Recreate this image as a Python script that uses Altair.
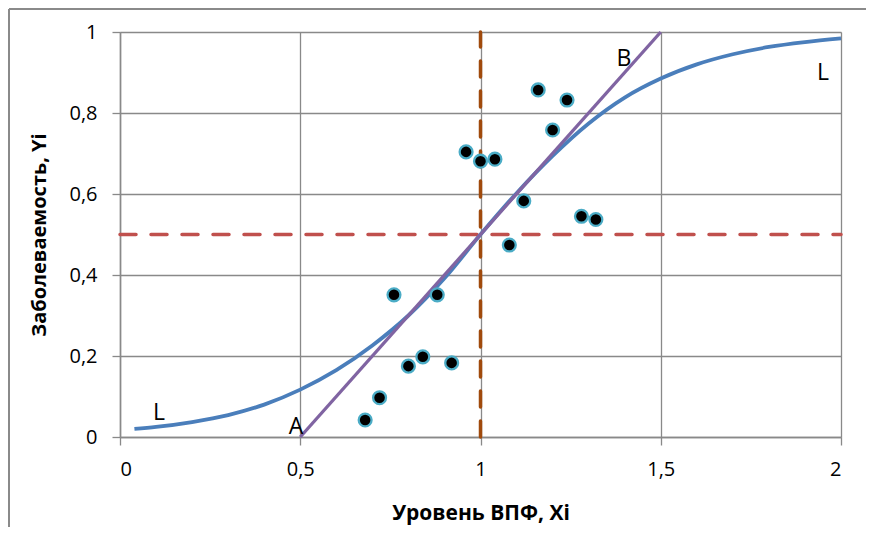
import altair as alt
import pandas as pd

# Observed points (Xi, Yi)
x_pts = [0.68, 0.72, 0.76, 0.80, 0.84, 0.88, 0.92, 0.96, 1.00, 1.04, 1.08, 1.12, 1.16, 1.20, 1.24, 1.28, 1.32]
y_pts = [0.042, 0.097, 0.351, 0.175, 0.198, 0.351, 0.183, 0.704, 0.681, 0.686, 0.474, 0.583, 0.857, 0.758, 0.832, 0.545, 0.537]

# Logistic curve L
curve_x = [0.04, 0.1, 0.2, 0.3, 0.4, 0.5, 0.6, 0.7, 0.8, 0.9, 1.0, 1.1, 1.2, 1.3, 1.4, 1.5, 1.6, 1.7, 1.8, 1.9, 2.0]
curve_y = [0.020, 0.025, 0.037, 0.054, 0.080, 0.117, 0.165, 0.226, 0.300, 0.392, 0.500, 0.602, 0.694, 0.774, 0.838, 0.885, 0.920, 0.945, 0.963, 0.975, 0.984]

# Straight line A-B
ab_x = [0.5, 1.5]
ab_y = [0.0, 1.0]

# Reference lines
h_x = [0.0, 2.0]
h_y = [0.5, 0.5]
v_x = [1.0, 1.0]
v_y = [0.0, 1.0]

# Labels
lab_text = ["L", "A", "B", "L"]
lab_x = [0.108, 0.488, 1.398, 1.95]
lab_y = [0.059, 0.025, 0.933, 0.899]

FONT = "Open Sans"
GRID = "#898989"

pts = pd.DataFrame({"x": x_pts, "y": y_pts})
curve = pd.DataFrame({"x": curve_x, "y": curve_y, "o": list(range(len(curve_x)))})
ab = pd.DataFrame({"x": ab_x, "y": ab_y})
hline = pd.DataFrame({"x": h_x, "y": h_y})
vline = pd.DataFrame({"x": v_x, "y": v_y})
labs = pd.DataFrame({"t": lab_text, "x": lab_x, "y": lab_y})

xs = alt.Scale(domain=[0, 2], nice=False, zero=False)
ys = alt.Scale(domain=[0, 1], nice=False, zero=False)

label_expr = "replace(format(datum.value, '.1~f'), '.', ',')"

x_axis = alt.Axis(
    values=[0, 0.5, 1, 1.5, 2], labelExpr=label_expr, title="Уровень ВПФ, Xi",
    grid=True, gridColor=GRID, gridWidth=1.3, domainColor=GRID, domainWidth=1.5,
    tickColor=GRID, tickSize=8, tickWidth=1.3, labelPadding=14,
    labelFont=FONT, labelFontSize=20, labelColor="#000000",
    titleFont=FONT, titleFontSize=21, titleFontWeight="bold", titleColor="#000000",
    titleX=360.5, titleY=76, titleBaseline="middle", titleAnchor="middle", titleAlign="center",
)
y_axis = alt.Axis(
    values=[0, 0.2, 0.4, 0.6, 0.8, 1], labelExpr=label_expr, title="Заболеваемость, Yi",
    grid=True, gridColor=GRID, gridWidth=1.3, domainColor=GRID, domainWidth=1.5,
    tickColor=GRID, tickSize=8, tickWidth=1.3, labelPadding=15,
    labelFont=FONT, labelFontSize=20, labelColor="#000000",
    titleFont=FONT, titleFontSize=20, titleFontWeight="bold", titleColor="#000000",
    titleX=-81, titleY=202.5, titleAngle=-90, titleBaseline="middle", titleAlign="center",
)

hl = alt.Chart(hline).mark_line(color="#C0504D", strokeWidth=3.5, strokeDash=[16, 15], strokeCap="round").encode(
    x=alt.X("x:Q", scale=xs, axis=x_axis), y=alt.Y("y:Q", scale=ys, axis=y_axis))
vl = alt.Chart(vline).mark_line(color="#A04A0C", strokeWidth=3.5, strokeDash=[16, 14], strokeCap="round").encode(
    x=alt.X("x:Q", scale=xs), y=alt.Y("y:Q", scale=ys))
cl = alt.Chart(curve).mark_line(color="#4A7EBB", strokeWidth=3.8, interpolate="monotone").encode(
    x=alt.X("x:Q", scale=xs), y=alt.Y("y:Q", scale=ys), order="o:Q")
abl = alt.Chart(ab).mark_line(color="#8064A2", strokeWidth=3.3).encode(
    x=alt.X("x:Q", scale=xs), y=alt.Y("y:Q", scale=ys))
pl = alt.Chart(pts).mark_point(filled=False, shape="circle", size=165, fill="#000000", fillOpacity=1,
                               stroke="#4BACC6", strokeWidth=2.3, opacity=1).encode(
    x=alt.X("x:Q", scale=xs), y=alt.Y("y:Q", scale=ys))
tl = alt.Chart(labs).mark_text(font=FONT, fontSize=23, color="#000000", align="center", baseline="middle").encode(
    x=alt.X("x:Q", scale=xs), y=alt.Y("y:Q", scale=ys), text="t:N")

frame_top = alt.Chart(pd.DataFrame({"a": [0]})).mark_rule(color="#8a8a8a", strokeWidth=2).encode(
    x=alt.value(-111), x2=alt.value(760), y=alt.value(-23))
frame_left = alt.Chart(pd.DataFrame({"a": [0]})).mark_rule(color="#8a8a8a", strokeWidth=2).encode(
    x=alt.value(-111), y=alt.value(-23), y2=alt.value(500))

chart = alt.layer(hl, vl, cl, abl, pl, tl, frame_top, frame_left).properties(
    width=721, height=405,
    autosize=alt.AutoSizeParams(type="none"),
    padding={"left": 112, "top": 24, "right": 25, "bottom": 90},
).configure_view(stroke=None).configure(background="#ffffff")

chart.save("out.html", embed_options={"renderer": "svg", "actions": False})
